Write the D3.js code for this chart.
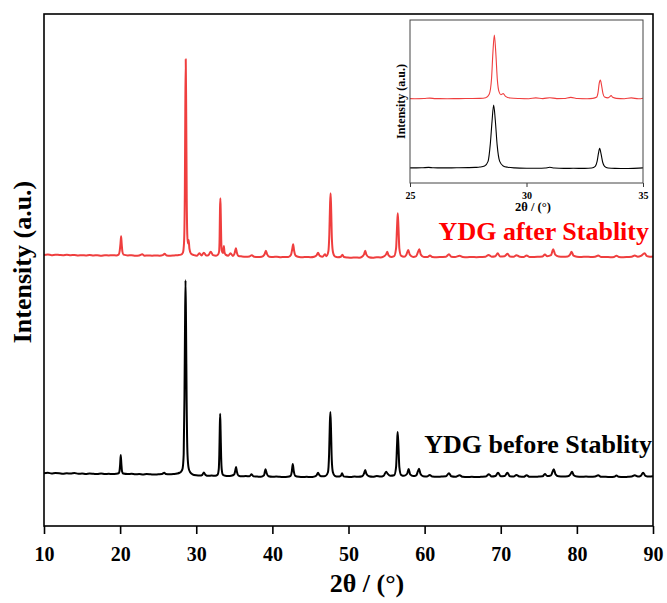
<!DOCTYPE html>
<html>
<head>
<meta charset="utf-8">
<script src="https://cdn.jsdelivr.net/npm/d3@7/dist/d3.min.js"></script>
<style>
  html, body { margin: 0; padding: 0; background: #fff; }
  svg { display: block; }
  text { font-family: "Liberation Serif", "Times New Roman", serif; font-weight: bold; }
</style>
</head>
<body>
<svg id="chart" width="667" height="603"></svg>
<script>
// XRD patterns of YDG, intensity in a.u. as [2θ (°), intensity]
const beforeStability = [
  [10,103],[10.5,104],[11,102.5],[11.5,103.5],[12,103],[12.5,102],[13,103],[13.5,102.5],[14,103.5],[14.5,102],
  [15,102.5],[15.5,101.5],[16,102.5],[16.5,102],[17,101.5],[17.5,102.5],[18,101.5],[18.5,102],[19,101.5],[19.5,102],
  [19.8,103],[19.9,106],[20.0,120],[20.08,138.7],[20.16,122],[20.25,107],[20.4,102.5],
  [21,101.5],[21.5,102],[22,101],[22.5,101.5],[23,100.5],[23.5,101.5],[24,101],[24.5,100.5],[25,101],[25.5,101.5],
  [25.8,104],[26.0,101.5],[26.5,101],[27,101.5],[27.5,102.5],[27.8,104],
  [28.0,106],[28.2,112],[28.35,140],[28.45,250],[28.52,380],[28.59,480],[28.66,390],[28.74,240],[28.85,140],[29.0,113],[29.2,105],[29.5,101],
  [30,99],[30.5,98.5],[30.8,100],[31.0,104.5],[31.2,100],[31.6,98],[32,98.5],[32.5,98],
  [32.8,100],[32.95,110],[33.03,140],[33.09,190],[33.14,219],[33.2,185],[33.27,135],[33.35,110],[33.5,100],
  [33.8,98],[34.2,97.5],[34.6,98],[35.0,101],[35.12,108],[35.23,115],[35.34,106],[35.55,98.5],[36,97],[36.5,97.5],
  [37.0,97],[37.27,101],[37.5,97],[38,96.5],[38.5,96],[38.9,99],[39.1,111],[39.25,103],[39.5,97],[40,96],[40.5,96.5],
  [41,96],[41.5,95.5],[42,96],[42.4,98],[42.55,106],[42.68,121],[42.8,108],[43.0,98],[43.5,96],[44,95.5],[44.5,96],
  [45,95.5],[45.5,96.5],[45.8,99],[46.0,104],[46.2,99],[46.6,97],[47.0,98],[47.3,105],
  [47.45,140],[47.55,200],[47.62,222.7],[47.7,190],[47.8,130],[47.95,105],[48.2,98],
  [48.6,96.5],[49.0,98],[49.15,103],[49.35,97],[49.8,96],[50.3,95.5],[50.8,96.5],[51.3,96],[51.8,97],[52.05,103],
  [52.2,109.4],[52.35,102],[52.7,97],[53.2,96],[53.7,97.5],[54.2,96.5],[54.6,98],[54.95,106],[55.15,102],[55.5,98],
  [56.0,99],[56.25,115],[56.38,160],[56.45,183.6],[56.55,160],[56.68,115],[56.9,100],[57.3,98],[57.7,102],[57.9,111.3],
  [58.1,101],[58.5,97.5],[58.9,99],[59.1,106],[59.26,112],[59.45,102],[59.8,97],[60.3,96.5],[60.67,99.6],[61.0,96.5],
  [61.6,96],[62.2,96.5],[62.8,97],[63.2,103],[63.5,97],[64.0,96],[64.6,99],[65.0,96],[65.6,95.5],[66.2,96],[66.8,95.5],
  [67.4,96],[68.0,96.5],[68.45,101],[68.8,96.5],[69.3,97.5],[69.64,104],[70.0,97],[70.5,97.5],[70.87,104],[71.2,97],
  [71.7,96.5],[72.05,99.5],[72.5,96.5],[73.0,96],[73.4,99],[73.8,96],[74.4,96],[75.0,96.5],[75.5,97],[75.8,101.6],
  [76.1,97.5],[76.6,99],[76.96,110.7],[77.2,101],[77.6,97],[78.2,96.5],[78.8,97],[79.15,101],[79.36,106],[79.6,99],
  [80.0,96.5],[80.6,96],[81.2,96.5],[81.8,96],[82.4,96.5],[82.8,99],[83.2,96],[83.8,96],[84.4,95.5],[84.9,96],
  [85.2,98.5],[85.5,96],[86.1,95.5],[86.7,96],[87.2,96.5],[87.6,99],[88.0,96.5],[88.4,98],[88.7,104],[89.0,98],
  [89.5,96.5],[90,97]
];

const afterStability = [
  [10,99.5],[10.5,100.5],[11,99],[11.5,100],[12,99.5],[12.5,99],[13,100],[13.5,99],[14,99.5],[14.5,98.5],[15,99],
  [15.5,98.5],[16,99.5],[16.5,98.5],[17,99],[17.5,98],[18,99],[18.5,98.5],[19,99],[19.5,98.5],[19.8,100],
  [19.95,108],[20.05,122],[20.13,135.8],[20.2,122],[20.3,106],[20.45,100],
  [21,98.5],[21.5,99],[22,98],[22.5,98.5],[22.9,100.6],[23.2,98],[23.7,98.5],[24.2,98],[24.7,98.5],[25.2,98],[25.6,99],
  [25.85,101.5],[26.1,98.5],[26.6,98],[27.1,98.5],[27.6,99],[28.0,100],[28.25,104],[28.4,125],[28.5,220],[28.56,380],
  [28.62,481.5],[28.68,380],[28.75,210],[28.82,140],[28.9,122],[29.0,128.6],[29.1,112],[29.3,102],[29.7,99],[30.1,98],
  [30.4,102.6],[30.7,98.5],[31.0,103.8],[31.3,98.5],[31.6,99],[31.9,105.8],[32.2,99],[32.6,98],[32.85,100],[33.0,106],
  [33.07,135],[33.12,190],[33.17,210],[33.22,180],[33.28,130],[33.35,108],[33.5,103],[33.58,110],[33.63,116.9],[33.7,106],
  [33.85,100],[34.2,98],[34.5,102.6],[34.8,97.5],[35.0,101],[35.12,108],[35.22,112.4],[35.33,104],[35.55,97.5],[36.0,96.5],
  [36.5,96],[37.0,96.5],[37.3,99],[37.6,96],[38.1,95.5],[38.6,96],[38.95,100],[39.15,107.7],[39.3,101],[39.6,96],
  [40.1,95.5],[40.6,96],[41.1,95],[41.6,95.5],[42.1,95.5],[42.45,100],[42.6,110],[42.73,120.2],[42.85,108],[43.05,98],
  [43.5,95.5],[44.0,95],[44.5,95.5],[45.0,95],[45.5,96],[45.8,98.5],[46.0,103.8],[46.2,98],[46.6,96],[46.9,100.6],
  [47.1,97],[47.35,106],[47.48,140],[47.58,200],[47.65,219.8],[47.72,190],[47.82,130],[47.97,104],[48.2,96.5],[48.6,95],
  [49.0,96],[49.2,100],[49.4,95.5],[49.9,94.5],[50.4,94],[50.9,94.5],[51.4,94],[51.8,96],[52.05,101],[52.2,107.7],
  [52.35,100],[52.7,95],[53.2,94],[53.7,95],[54.2,94.5],[54.6,96],[54.95,101],[55.1,105.8],[55.25,99],[55.6,95.5],
  [56.0,97],[56.25,112],[56.38,155],[56.47,180.7],[56.56,155],[56.68,112],[56.9,98],[57.3,96],[57.6,100],[57.85,109],
  [58.05,100],[58.5,95.5],[58.9,97],[59.1,104],[59.3,110.6],[59.5,100],[59.9,95.5],[60.4,95.5],[60.7,98.5],[61.0,95.5],
  [61.6,95],[62.2,95.5],[62.8,96],[63.2,100.6],[63.5,96],[64.0,95.5],[64.6,98],[65.0,95.5],[65.6,95],[66.2,95.5],
  [66.8,95],[67.4,95.5],[68.0,96],[68.4,99.5],[68.8,96],[69.3,97],[69.6,102.6],[69.9,96.5],[70.5,97],[70.9,101.5],
  [71.2,96.5],[71.7,96],[72.05,99],[72.5,96],[73.0,95.5],[73.4,98.5],[73.8,95.5],[74.4,95.5],[75.0,96],[75.5,96.5],
  [75.8,100.5],[76.1,97],[76.6,99],[76.9,110.6],[77.15,100],[77.6,96.5],[78.2,96],[78.8,96.5],[79.1,100],[79.3,105.8],
  [79.55,98],[80.0,96],[80.6,95.5],[81.2,96],[81.8,95.5],[82.4,96],[82.8,98.5],[83.2,95.5],[83.8,95.5],[84.4,95],
  [84.9,95.5],[85.2,98],[85.5,95.5],[86.1,95],[86.7,95.5],[87.2,96],[87.6,98.5],[88.0,96],[88.4,97.5],[88.9,102.6],
  [89.2,97],[89.6,96],[90,96.5]
];

const xTicks = [10, 20, 30, 40, 50, 60, 70, 80, 90];
const insetTicks = [25, 30, 35];
const seriesLabels = ["YDG after Stablity", "YDG before Stablity"];
const xTitle = "2θ / (°)";
const yTitle = "Intensity (a.u.)";

// vertical stacking of the "after" pattern above the "before" one
const stackOffset = 430;
const insetStackOffset = 420;

const RED = "#ef3e3e";
const svg = d3.select("#chart");

// ---- main panel ----
const M = { left: 44, right: 653, top: 14, bottom: 526 };
const x = d3.scaleLinear().domain([10, 90]).range([M.left, M.right]);
const y = d3.scaleLinear().domain([0, 1000]).range([M.bottom, M.top]);

svg.append("defs").append("clipPath").attr("id", "mainClip")
  .append("rect").attr("x", M.left).attr("y", M.top)
  .attr("width", M.right - M.left).attr("height", M.bottom - M.top);

const mainLine = off => d3.line()
  .x(d => x(d[0])).y(d => y(d[1] + off))
  .curve(d3.curveMonotoneX);

const plot = svg.append("g").attr("clip-path", "url(#mainClip)");
plot.append("path").datum(beforeStability)
  .attr("fill", "none").attr("stroke", "#000").attr("stroke-width", 2)
  .attr("stroke-linejoin", "round").attr("d", mainLine(0));
plot.append("path").datum(afterStability)
  .attr("fill", "none").attr("stroke", RED).attr("stroke-width", 2)
  .attr("stroke-linejoin", "round").attr("d", mainLine(stackOffset));

const xAxis = svg.append("g")
  .attr("transform", `translate(0,${M.bottom})`)
  .call(d3.axisBottom(x).tickValues(xTicks).tickSize(8).tickPadding(13).tickFormat(d3.format("d")));
xAxis.select(".domain").remove();
xAxis.selectAll(".tick line").attr("stroke", "#000").attr("stroke-width", 1.6);
xAxis.selectAll(".tick text").attr("fill", "#000")
  .style("font-size", "20px").style("font-family", "'Liberation Serif', 'Times New Roman', serif")
  .style("font-weight", "bold");

svg.append("rect")
  .attr("x", M.left).attr("y", M.top)
  .attr("width", M.right - M.left).attr("height", M.bottom - M.top)
  .attr("fill", "none").attr("stroke", "#000").attr("stroke-width", 1.6);

svg.append("text").attr("x", 367).attr("y", 592)
  .attr("text-anchor", "middle").style("font-size", "26px").text(xTitle);

svg.append("text")
  .attr("transform", `translate(31,${(M.top + M.bottom) / 2 - 8}) rotate(-90)`)
  .attr("text-anchor", "middle").style("font-size", "26px").text(yTitle);

svg.append("text").attr("x", 649).attr("y", 240)
  .attr("text-anchor", "end").attr("fill", "#ff0000")
  .style("font-size", "26px").text(seriesLabels[0]);
svg.append("text").attr("x", 652).attr("y", 453)
  .attr("text-anchor", "end").attr("fill", "#000")
  .style("font-size", "26px").text(seriesLabels[1]);

// ---- inset: zoom on the 25–35° region ----
const I = { left: 410, right: 643, top: 20, bottom: 183 };
const xi = d3.scaleLinear().domain([25, 35]).range([I.left, I.right]);
const yi = d3.scaleLinear().domain([10, 992]).range([I.bottom, I.top]);

svg.select("defs").append("clipPath").attr("id", "insetClip")
  .append("rect").attr("x", I.left).attr("y", I.top)
  .attr("width", I.right - I.left).attr("height", I.bottom - I.top);

const insetLine = off => d3.line()
  .x(d => xi(d[0])).y(d => yi(d[1] + off))
  .curve(d3.curveMonotoneX);

const inset = svg.append("g").attr("clip-path", "url(#insetClip)");
inset.append("path").datum(beforeStability)
  .attr("fill", "none").attr("stroke", "#000").attr("stroke-width", 1.1)
  .attr("d", insetLine(0));
inset.append("path").datum(afterStability)
  .attr("fill", "none").attr("stroke", RED).attr("stroke-width", 1.1)
  .attr("d", insetLine(insetStackOffset));

const xiAxis = svg.append("g")
  .attr("transform", `translate(0,${I.bottom})`)
  .call(d3.axisBottom(xi).tickValues(insetTicks).tickSize(4).tickPadding(4.5).tickFormat(d3.format("d")));
xiAxis.select(".domain").remove();
xiAxis.selectAll(".tick line").attr("stroke", "#333").attr("stroke-width", 1);
xiAxis.selectAll(".tick text").attr("fill", "#000")
  .style("font-size", "10px").style("font-family", "'Liberation Serif', 'Times New Roman', serif")
  .style("font-weight", "bold");

svg.append("rect")
  .attr("x", I.left).attr("y", I.top)
  .attr("width", I.right - I.left).attr("height", I.bottom - I.top)
  .attr("fill", "none").attr("stroke", "#444").attr("stroke-width", 1);

svg.append("text").attr("x", 533).attr("y", 211)
  .attr("text-anchor", "middle").style("font-size", "12.5px").text(xTitle);
svg.append("text")
  .attr("transform", `translate(405,${(I.top + I.bottom) / 2}) rotate(-90)`)
  .attr("text-anchor", "middle").style("font-size", "12px").text(yTitle);
</script>
</body>
</html>
